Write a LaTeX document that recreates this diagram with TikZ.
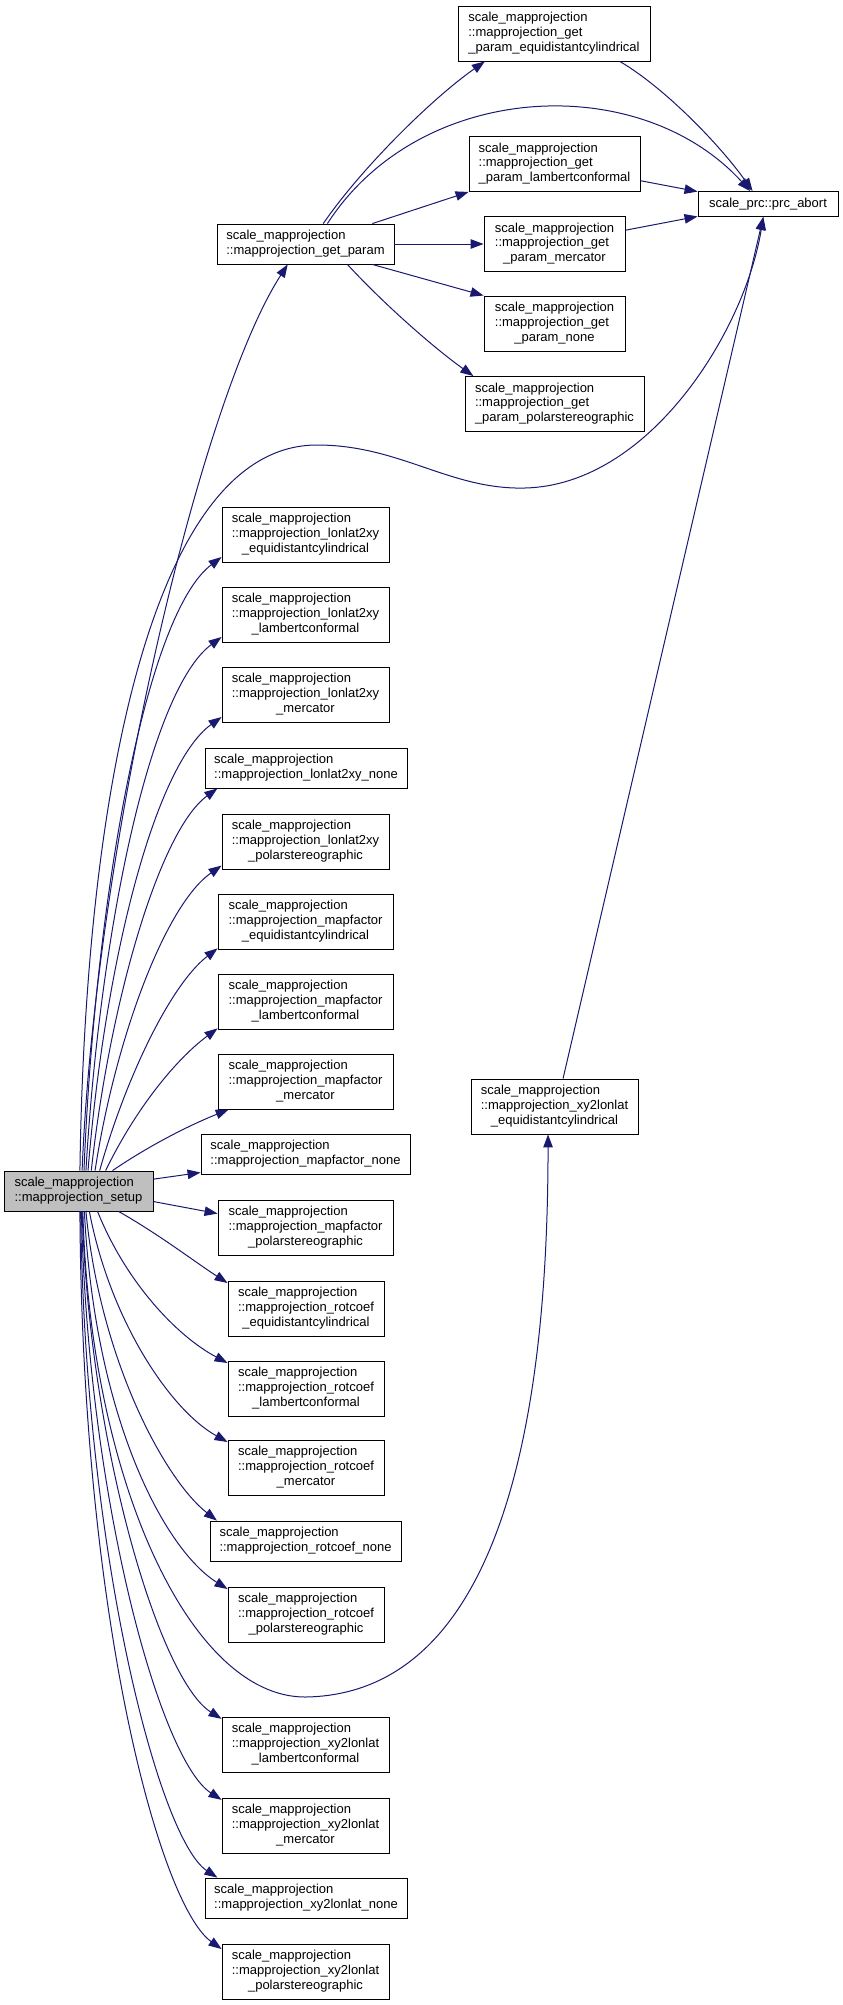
\documentclass[tikz,border=0pt]{standalone}
\usepackage{fontspec}
\setmainfont{Liberation Sans}
\usetikzlibrary{arrows.meta}
\definecolor{edgeblue}{HTML}{191970}
\definecolor{rootgray}{HTML}{BFBFBF}
\newcommand{\fnfont}{\fontsize{13}{14.7}\selectfont}
\newcommand{\smp}{scale\_mapprojection}
\newcommand{\twoline}[2]{\begin{tabular}{@{}l@{}}#1\\#2\end{tabular}}
\newcommand{\threeline}[3]{\begin{tabular}{@{}l@{}}#1\\#2\\\multicolumn{1}{@{}c@{}}{#3}\end{tabular}}
\begin{document}
\begin{tikzpicture}[x=1pt,y=-1pt,
    fn/.style={draw, line width=0.9pt, inner sep=0pt, font=\fnfont, fill=white},
    box3/.style={fn, minimum height=55pt},
    box2/.style={fn, minimum height=40pt},
    call/.style={draw=edgeblue, line width=1pt, -{Triangle[length=13pt,width=9.5pt]}}]
  \useasboundingbox (0,0) rectangle (843,2005);
  \node[box2, minimum width=149pt, fill=rootgray] (setup) at (78.5,1191) {\twoline{\smp}{::mapprojection\_setup}};
  \node[box2, minimum width=177pt] (get_param) at (305.5,244) {\twoline{\smp}{::mapprojection\_get\_param}};
  \node[box3, minimum width=192pt] (gp_equi) at (554,33.5) {\threeline{\smp}{::mapprojection\_get}{\_param\_equidistantcylindrical}};
  \node[box3, minimum width=171pt] (gp_lambert) at (554.5,164) {\threeline{\smp}{::mapprojection\_get}{\_param\_lambertconformal}};
  \node[box3, minimum width=141pt] (gp_mercator) at (554.5,244) {\threeline{\smp}{::mapprojection\_get}{\_param\_mercator}};
  \node[box3, minimum width=141pt] (gp_none) at (554.5,323.5) {\threeline{\smp}{::mapprojection\_get}{\_param\_none}};
  \node[box3, minimum width=179pt] (gp_polar) at (554.5,404) {\threeline{\smp}{::mapprojection\_get}{\_param\_polarstereographic}};
  \node[fn, minimum width=140pt, minimum height=25pt] (prc_abort) at (768,204) {scale\_prc::prc\_abort};
  \node[box3, minimum width=167pt] (ll_equi) at (305.5,534.5) {\threeline{\smp}{::mapprojection\_lonlat2xy}{\_equidistantcylindrical}};
  \node[box3, minimum width=167pt] (ll_lambert) at (305.5,614.5) {\threeline{\smp}{::mapprojection\_lonlat2xy}{\_lambertconformal}};
  \node[box3, minimum width=167pt] (ll_mercator) at (305.5,694.5) {\threeline{\smp}{::mapprojection\_lonlat2xy}{\_mercator}};
  \node[box2, minimum width=202pt] (ll_none) at (306,768) {\twoline{\smp}{::mapprojection\_lonlat2xy\_none}};
  \node[box3, minimum width=167pt] (ll_polar) at (305.5,841.5) {\threeline{\smp}{::mapprojection\_lonlat2xy}{\_polarstereographic}};
  \node[box3, minimum width=175pt] (mf_equi) at (305.5,921.5) {\threeline{\smp}{::mapprojection\_mapfactor}{\_equidistantcylindrical}};
  \node[box3, minimum width=175pt] (mf_lambert) at (305.5,1001.5) {\threeline{\smp}{::mapprojection\_mapfactor}{\_lambertconformal}};
  \node[box3, minimum width=175pt] (mf_mercator) at (305.5,1081.5) {\threeline{\smp}{::mapprojection\_mapfactor}{\_mercator}};
  \node[box2, minimum width=209pt] (mf_none) at (305.5,1154) {\twoline{\smp}{::mapprojection\_mapfactor\_none}};
  \node[box3, minimum width=175pt] (mf_polar) at (305.5,1227.5) {\threeline{\smp}{::mapprojection\_mapfactor}{\_polarstereographic}};
  \node[box3, minimum width=156pt] (rc_equi) at (306,1308.5) {\threeline{\smp}{::mapprojection\_rotcoef}{\_equidistantcylindrical}};
  \node[box3, minimum width=156pt] (rc_lambert) at (306,1388.5) {\threeline{\smp}{::mapprojection\_rotcoef}{\_lambertconformal}};
  \node[box3, minimum width=156pt] (rc_mercator) at (306,1467.5) {\threeline{\smp}{::mapprojection\_rotcoef}{\_mercator}};
  \node[box2, minimum width=191pt] (rc_none) at (305.5,1541) {\twoline{\smp}{::mapprojection\_rotcoef\_none}};
  \node[box3, minimum width=156pt] (rc_polar) at (306,1614.5) {\threeline{\smp}{::mapprojection\_rotcoef}{\_polarstereographic}};
  \node[box3, minimum width=167pt] (xy_equi) at (554.5,1106.5) {\threeline{\smp}{::mapprojection\_xy2lonlat}{\_equidistantcylindrical}};
  \node[box3, minimum width=167pt] (xy_lambert) at (305.5,1744.5) {\threeline{\smp}{::mapprojection\_xy2lonlat}{\_lambertconformal}};
  \node[box3, minimum width=167pt] (xy_mercator) at (305.5,1825.5) {\threeline{\smp}{::mapprojection\_xy2lonlat}{\_mercator}};
  \node[box2, minimum width=202pt] (xy_none) at (306,1898) {\twoline{\smp}{::mapprojection\_xy2lonlat\_none}};
  \node[box3, minimum width=167pt] (xy_polar) at (305.5,1971.5) {\threeline{\smp}{::mapprojection\_xy2lonlat}{\_polarstereographic}};

  \draw[call] (setup.80) .. controls (95,850) and (200,400) .. (get_param.229);
  \draw[call] (setup.86) .. controls (85,800) and (150,445) .. (317,445)
    .. controls (400,445) and (450,490) .. (525,488)
    .. controls (650,485) and (745,330) .. (prc_abort.250);
  \draw[call] (get_param.49) .. controls (360,170) and (430,100) .. (gp_equi.202);
  \draw[call] (get_param.43) .. controls (420,80) and (640,70) .. (prc_abort.144);
  \draw[call] (gp_equi.-23) .. controls (665,88) and (720,145) .. (prc_abort.140);
  \draw[call] (get_param.17) -- (gp_lambert.south west);
  \draw[call] (get_param.east) -- (gp_mercator.west);
  \draw[call] (gp_lambert.-11) -- (prc_abort.170);
  \draw[call] (gp_mercator.11) -- (prc_abort.190);
  \draw[call] (get_param.-17) -- (gp_none.north west);
  \draw[call] (get_param.-26) .. controls (380,300) and (430,345) .. (gp_polar.161);

  \draw[call] (setup.75) .. controls (95,900) and (145,615) .. (ll_equi.195);
  \draw[call] (setup.70) .. controls (100,930) and (150,690) .. (ll_lambert.195);
  \draw[call] (setup.65) .. controls (105,960) and (155,765) .. (ll_mercator.195);
  \draw[call] (setup.58) .. controls (110,1000) and (160,830) .. (ll_none.193);
  \draw[call] (setup.51) .. controls (115,1040) and (165,905) .. (ll_polar.196);
  \draw[call] (setup.44) .. controls (125,1080) and (170,985) .. (mf_equi.197);
  \draw[call] (setup.37) .. controls (135,1110) and (175,1060) .. (mf_lambert.197);
  \draw[call] (setup.31) .. controls (150,1145) and (190,1125) .. (mf_mercator.200);
  \draw[call] (setup.9) -- (mf_none.190);
  \draw[call] (setup.-8) -- (mf_polar.171);
  \draw[call] (setup.-27) .. controls (160,1235) and (195,1262) .. (rc_equi.162);
  \draw[call] (setup.-47) .. controls (125,1280) and (175,1335) .. (rc_lambert.162);
  \draw[call] (setup.-62) .. controls (110,1320) and (170,1410) .. (rc_mercator.162);
  \draw[call] (setup.-70) .. controls (100,1360) and (165,1480) .. (rc_none.167);
  \draw[call] (setup.-74) .. controls (95,1420) and (165,1550) .. (rc_polar.162);
  \draw[call] (setup.-78) .. controls (90,1480) and (190,1697) .. (305,1697)
    .. controls (460,1695) and (548,1520) .. (xy_equi.257);
  \draw[call] (xy_equi.73) -- (prc_abort.250);
  \draw[call] (setup.-80) .. controls (90,1450) and (160,1680) .. (xy_lambert.163);
  \draw[call] (setup.-82) .. controls (88,1500) and (160,1760) .. (xy_mercator.163);
  \draw[call] (setup.-84) .. controls (85,1560) and (160,1840) .. (xy_none.167);
  \draw[call] (setup.-86) .. controls (82,1620) and (160,1905) .. (xy_polar.165);
\end{tikzpicture}
\end{document}
